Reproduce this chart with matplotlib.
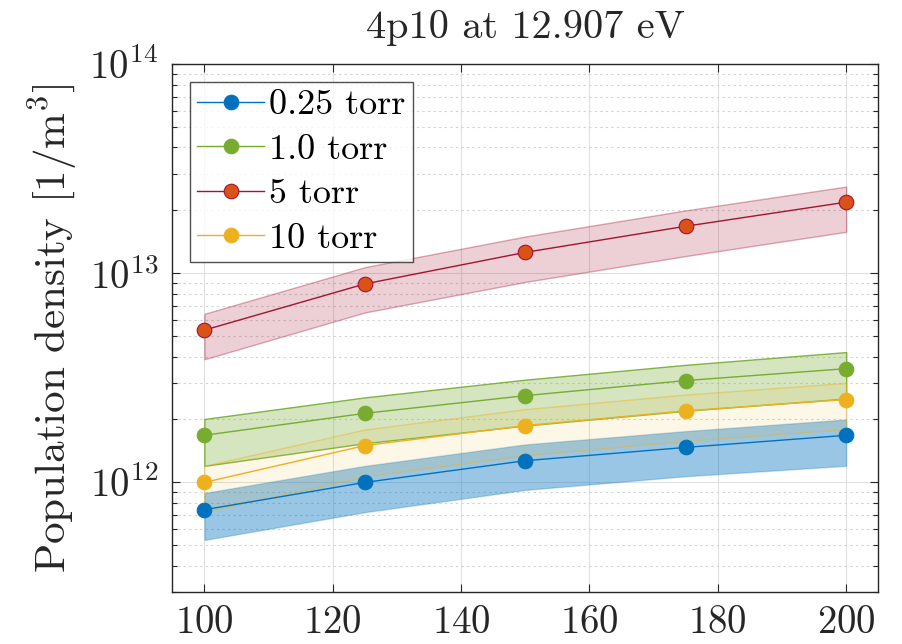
import numpy as np
import matplotlib
matplotlib.use("Agg")
import matplotlib.pyplot as plt
from matplotlib.colors import to_rgba
from matplotlib.ticker import LogLocator, NullFormatter

# data
power = [100, 125, 150, 175, 200]

labels = ['0.25 torr', '1.0 torr', '5 torr', '10 torr']

dens_025 = [7.4e11, 1.0e12, 1.27e12, 1.47e12, 1.68e12]
upper_025 = [8.9e11, 1.2e12, 1.52e12, 1.76e12, 2.0e12]
lower_025 = [5.3e11, 7.2e11, 9.2e11, 1.07e12, 1.2e12]

dens_1 = [1.68e12, 2.14e12, 2.6e12, 3.07e12, 3.5e12]
upper_1 = [2.01e12, 2.55e12, 3.1e12, 3.65e12, 4.2e12]
lower_1 = [1.2e12, 1.54e12, 1.87e12, 2.2e12, 2.52e12]

dens_5 = [5.35e12, 8.9e12, 1.26e13, 1.68e13, 2.19e13]
upper_5 = [6.4e12, 1.07e13, 1.5e13, 2.0e13, 2.6e13]
lower_5 = [3.88e12, 6.5e12, 9.1e12, 1.21e13, 1.58e13]

dens_10 = [1.0e12, 1.5e12, 1.87e12, 2.2e12, 2.49e12]
upper_10 = [1.2e12, 1.79e12, 2.24e12, 2.63e12, 2.99e12]
lower_10 = [7.2e11, 1.07e12, 1.35e12, 1.58e12, 1.8e12]

# styling per series (matlab default colours)
series = [
    {'y': dens_025, 'hi': upper_025, 'lo': lower_025, 'line': '#0072BD',
     'face': '#0072BD', 'edge': '#0072BD', 'fill_a': 0.40, 'edge_a': 0.25},
    {'y': dens_1, 'hi': upper_1, 'lo': lower_1, 'line': '#77AC30',
     'face': '#77AC30', 'edge': '#77AC30', 'fill_a': 0.30, 'edge_a': 0.9},
    {'y': dens_5, 'hi': upper_5, 'lo': lower_5, 'line': '#A2142F',
     'face': '#D95319', 'edge': '#A2142F', 'fill_a': 0.20, 'edge_a': 0.35},
    {'y': dens_10, 'hi': upper_10, 'lo': lower_10, 'line': '#EDB120',
     'face': '#EDB120', 'edge': '#EDB120', 'fill_a': 0.10, 'edge_a': 0.45},
]

plt.rcParams['font.family'] = 'cmr10'
plt.rcParams['mathtext.fontset'] = 'cm'
plt.rcParams['axes.formatter.use_mathtext'] = True

fig = plt.figure(figsize=(9.02, 6.44), dpi=100)
ax = fig.add_axes([0.191, 0.0812, 0.7827, 0.819])

handles = []
for s, lab in zip(series, labels):
    ax.fill_between(power, s['lo'], s['hi'],
                    facecolor=to_rgba(s['line'], s['fill_a']),
                    edgecolor=to_rgba(s['line'], s['edge_a']),
                    linewidth=1.0, zorder=2)
    h, = ax.plot(power, s['y'], color=s['line'], linewidth=1.0,
                 marker='o', markersize=10.5, markerfacecolor=s['face'],
                 markeredgecolor=s['edge'], markeredgewidth=0.8,
                 label=lab, zorder=3)
    handles.append(h)

ax.set_yscale('log')
ax.set_xlim(95, 205)
ax.set_ylim(3e11, 1e14)
ax.set_xticks([100, 120, 140, 160, 180, 200])
ax.yaxis.set_major_locator(LogLocator(base=10, numticks=10))
ax.yaxis.set_minor_locator(LogLocator(base=10, subs=np.arange(2, 10), numticks=20))
ax.yaxis.set_minor_formatter(NullFormatter())

# grid
ax.grid(True, which='major', color='#e0e0e0', linewidth=0.8, linestyle='-', zorder=0)
ax.grid(True, which='minor', axis='y', color='#d2d2d2', linewidth=0.8,
        linestyle=(0, (2, 3)), zorder=0)
ax.set_axisbelow(True)

ax.tick_params(which='both', direction='in', top=True, right=True,
               colors='#262626', labelcolor='#262626')
ax.tick_params(which='major', length=6, width=0.8, labelsize=28)
ax.tick_params(which='minor', length=3.5, width=0.8)
ax.tick_params(axis='x', which='major', pad=10)
ax.tick_params(axis='y', which='major', pad=10)
ax.tick_params(axis='x', which='minor', top=False, bottom=False)
for sp in ax.spines.values():
    sp.set_color('#262626')
    sp.set_linewidth(1.0)

ax.set_ylabel(r'Population density [1/m$^3$]', fontsize=31, color='#262626', labelpad=7)
ax.set_title('4p10 at 12.907 eV', fontsize=29, color='#262626', pad=19)

leg = ax.legend(handles=handles, loc='upper left', bbox_to_anchor=(0.025, 0.967),
                fontsize=26, frameon=True, fancybox=False, handlelength=1.85,
                handletextpad=0.15, labelspacing=0.34, borderpad=0.2,
                borderaxespad=0.0)
leg.get_frame().set_edgecolor('#262626')
leg.get_frame().set_linewidth(1.0)

fig.savefig('out.png', dpi=100)
